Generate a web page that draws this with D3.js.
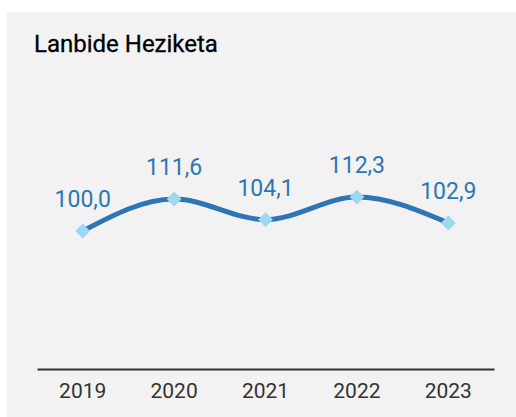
<!DOCTYPE html>
<html>
<head>
<meta charset="utf-8">
<script src="https://cdn.jsdelivr.net/npm/d3@7"></script>
<style>
  body { margin: 0; background: #fff; }
  text { font-family: Roboto, sans-serif; }
</style>
</head>
<body>
<script>
var years = ['2019','2020','2021','2022','2023'];
var values = [100.0, 111.6, 104.1, 112.3, 102.9];
var title = 'Lanbide Heziketa';

var W = 516, H = 417;
var svg = d3.select('body').append('svg').attr('width', W).attr('height', H);

svg.append('rect')
  .attr('x', 7).attr('y', 12)
  .attr('width', W - 7).attr('height', H - 12)
  .attr('fill', '#f2f2f2');

svg.append('text')
  .attr('x', 34).attr('y', 52)
  .attr('font-size', 24)
  .attr('fill', '#000')
  .attr('stroke', '#000')
  .attr('stroke-width', 0.3)
  .text(title);

var x = d3.scaleBand().domain(years).range([37, 494]);
var y = d3.scaleLinear().domain([50, 150]).range([369, 93]);

var xAxis = svg.append('g')
  .attr('transform', 'translate(0,369)')
  .call(d3.axisBottom(x).tickSize(0).tickPadding(14));
xAxis.select('.domain').attr('stroke', '#333').attr('stroke-width', 2);
xAxis.selectAll('text')
  .attr('font-size', 21)
  .attr('fill', '#333')
  .attr('font-family', 'Roboto, sans-serif');

var line = d3.line()
  .x(function(d,i) { return x(years[i]) + x.bandwidth()/2; })
  .y(function(d) { return y(d); })
  .curve(d3.curveMonotoneX);

svg.append('path')
  .datum(values)
  .attr('d', line)
  .attr('fill', 'none')
  .attr('stroke', '#2e75b6')
  .attr('stroke-width', 5);

svg.selectAll('path.marker')
  .data(values)
  .enter().append('path')
    .attr('class', 'marker')
    .attr('d', d3.symbol().type(d3.symbolSquare).size(110))
    .attr('transform', function(d,i) {
      return 'translate(' + (x(years[i]) + x.bandwidth()/2) + ',' + y(d) + ') rotate(45)';
    })
    .attr('fill', '#9dd7f1');

svg.selectAll('text.label')
  .data(values)
  .enter().append('text')
    .attr('class', 'label')
    .attr('x', function(d,i) { return x(years[i]) + x.bandwidth()/2; })
    .attr('y', function(d) { return y(d) - 24; })
    .attr('text-anchor', 'middle')
    .attr('font-size', 23)
    .attr('fill', '#2e75b6')
    .text(function(d) { return d.toFixed(1).replace('.', ','); });
</script>
</body>
</html>
